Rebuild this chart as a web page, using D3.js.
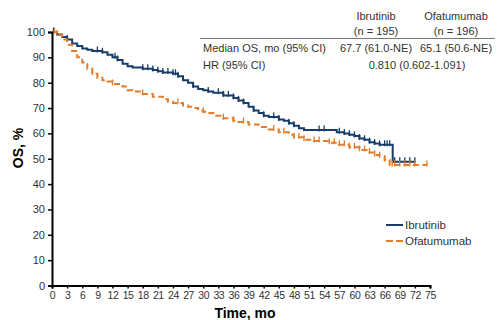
<!DOCTYPE html>
<html>
<head>
<meta charset="utf-8">
<script src="https://cdn.jsdelivr.net/npm/d3@7"></script>
<style>
  body { margin: 0; background: #fff; }
  text { font-family: "Liberation Sans", Arial, sans-serif; }
</style>
</head>
<body>
<div id="viz"></div>
<script>
// Kaplan-Meier steps (month, OS %)
const ibrutinibSteps = [
  [0, 100], [1, 99], [2, 98], [3, 97], [4, 95.5], [5, 94.5], [6, 93.5], [7, 93], [8, 92.5],
  [10, 92], [11, 91], [12, 90], [13, 89], [14, 87.5], [15, 86.5], [16, 86], [18, 85.5],
  [20, 85], [21, 84.5], [22, 84], [24, 83.5], [25, 82.5], [26, 81], [27, 80], [28, 78.5],
  [29, 77.5], [30, 77], [31, 76.5], [32, 76], [34, 75], [36, 74], [37, 73], [38, 72],
  [39, 70.5], [40, 69], [41, 68], [42, 67], [43, 66.5], [45, 65.5], [46, 65], [47, 64],
  [48, 63], [49, 62], [50, 61.3], [56.5, 60.5], [58, 60], [59, 59.5], [60, 59], [61, 58],
  [62, 57.5], [63, 56.5], [64, 56], [65, 55.5], [67.6, 48.8], [72, 48.8]
];
const ofatumumabSteps = [
  [0, 100], [1, 99], [2, 97], [3, 95], [4, 92.5], [5, 90], [6, 88], [7, 85.5], [8, 83.5],
  [9, 82], [10, 81], [11, 80.5], [12, 79.5], [14, 78.5], [15, 77], [16, 76.5], [18, 75.5],
  [20, 74.5], [22, 73.5], [23, 72.5], [24, 72], [26, 71], [27, 70.5], [28, 70], [29, 69],
  [30, 68.5], [31, 68], [32, 67], [34, 66], [36, 65], [37, 64.5], [39, 63.5], [41, 62.5],
  [43, 61.5], [45, 60.5], [47, 59.5], [48, 58.5], [50, 57.5], [52, 57], [55, 56.3],
  [57, 55.5], [59, 54.5], [61, 53.5], [63, 52.5], [64, 51.5], [65, 51], [66, 49.5],
  [67, 47.5], [74.4, 47.5]
];
const ibrutinibCensored = [0.3, 3, 9, 10, 12.5, 13, 18, 19, 20, 21, 22, 23, 24, 24.5, 25, 28,
  31, 33, 34, 35, 36, 37, 38, 40, 42, 44, 45, 47, 48, 53, 54, 57, 58, 59, 60, 61, 62, 63,
  64, 65, 66, 66.5, 67, 68, 69, 70, 71, 72];
const ofatumumabCensored = [0.5, 1, 8, 12, 18, 25, 30, 34, 36, 38, 44, 46, 48, 49, 50, 52,
  53, 55, 56, 57, 58, 59, 60, 61, 62, 63, 64, 65, 66, 67.5, 68, 69, 70, 71, 72, 74.4];

const xTicks = d3.range(0, 76, 3);
const yTicks = d3.range(0, 101, 10);

const tableHeaders = [["Ibrutinib", "(n = 195)"], ["Ofatumumab", "(n = 196)"]];
const medianRow = ["Median OS, mo (95% CI)", "67.7 (61.0-NE)", "65.1 (50.6-NE)"];
const hrRow = ["HR (95% CI)", "0.810 (0.602-1.091)"];

const series = [
  { name: "Ibrutinib", steps: ibrutinibSteps, censored: ibrutinibCensored, color: "#173d68", dash: null },
  { name: "Ofatumumab", steps: ofatumumabSteps, censored: ofatumumabCensored, color: "#e37d2b", dash: "6,3.5" }
];

const width = 497;
const height = 320;

const svg = d3.select("#viz").append("svg")
  .attr("width", width)
  .attr("height", height);

const x = d3.scaleLinear().domain([0, 75]).range([52, 430]);
const y = d3.scaleLinear().domain([0, 100]).range([285.5, 32]);

// survival value at time t for a step curve
function survAt(steps, t) {
  let v = steps[0][1];
  steps.forEach(s => { if (s[0] <= t) v = s[1]; });
  return v;
}

const line = d3.line()
  .x(d => x(d[0]))
  .y(d => y(d[1]))
  .curve(d3.curveStepAfter);

series.forEach(s => {
  const g = svg.append("g");
  g.append("path")
    .attr("d", line(s.steps))
    .attr("fill", "none")
    .attr("stroke", s.color)
    .attr("stroke-width", 2)
    .attr("stroke-dasharray", s.dash);
  g.selectAll("line.cens")
    .data(s.censored)
    .enter()
    .append("line")
    .attr("x1", d => x(d))
    .attr("x2", d => x(d))
    .attr("y1", d => y(survAt(s.steps, d)) - 4.5)
    .attr("y2", d => y(survAt(s.steps, d)) + 1.5)
    .attr("stroke", s.color)
    .attr("stroke-width", 1.3);
});

// axes
const xAxis = svg.append("g")
  .attr("transform", `translate(0,${y(0)})`)
  .call(d3.axisBottom(x).tickValues(xTicks).tickSize(3).tickPadding(3));
const yAxis = svg.append("g")
  .attr("transform", `translate(${x(0)},0)`)
  .call(d3.axisLeft(y).tickValues(yTicks).tickSize(4).tickPadding(3));

[xAxis, yAxis].forEach(a => {
  a.select(".domain").attr("stroke", "#000").attr("stroke-width", 2);
  a.selectAll(".tick line").attr("stroke", "#000").attr("stroke-width", 1.5);
  a.selectAll(".tick text")
    .attr("fill", "#333")
    .style("font-family", "'Liberation Sans', Arial, sans-serif");
});
xAxis.selectAll(".tick text").style("font-size", "10.5px").style("letter-spacing", "-0.4px");
yAxis.selectAll(".tick text").style("font-size", "11px");

svg.append("text")
  .attr("x", 245)
  .attr("y", 318)
  .attr("text-anchor", "middle")
  .style("font-size", "14px")
  .style("font-weight", "bold")
  .text("Time, mo");

svg.append("text")
  .attr("transform", "translate(23,148) rotate(-90)")
  .attr("text-anchor", "middle")
  .style("font-size", "14px")
  .style("font-weight", "bold")
  .text("OS, %");

// table
const colX = [376, 456];
const table = svg.append("g").style("font-size", "11px").attr("fill", "#333");
tableHeaders.forEach((h, i) => {
  table.append("text").attr("x", colX[i]).attr("y", 19.5).attr("text-anchor", "middle").text(h[0]);
  table.append("text").attr("x", colX[i]).attr("y", 35).attr("text-anchor", "middle").text(h[1]);
});
svg.append("line")
  .attr("x1", 200).attr("x2", 495)
  .attr("y1", 38.5).attr("y2", 38.5)
  .attr("stroke", "#777").attr("stroke-width", 1);
table.append("text").attr("x", 203).attr("y", 52).text(medianRow[0]);
table.append("text").attr("x", colX[0]).attr("y", 52).attr("text-anchor", "middle").text(medianRow[1]);
table.append("text").attr("x", colX[1]).attr("y", 52).attr("text-anchor", "middle").text(medianRow[2]);
table.append("text").attr("x", 203).attr("y", 69).text(hrRow[0]);
table.append("text").attr("x", 417).attr("y", 69).attr("text-anchor", "middle").text(hrRow[1]);

// legend
const legend = svg.append("g");
series.forEach((s, i) => {
  const ly = 225 + i * 16;
  legend.append("line")
    .attr("x1", 386).attr("x2", 403)
    .attr("y1", ly).attr("y2", ly)
    .attr("stroke", s.color)
    .attr("stroke-width", 2)
    .attr("stroke-dasharray", s.dash ? "7,3" : null);
  legend.append("text")
    .attr("x", 405).attr("y", ly + 4)
    .style("font-size", "11.5px")
    .attr("fill", "#333")
    .text(s.name);
});
</script>
</body>
</html>
